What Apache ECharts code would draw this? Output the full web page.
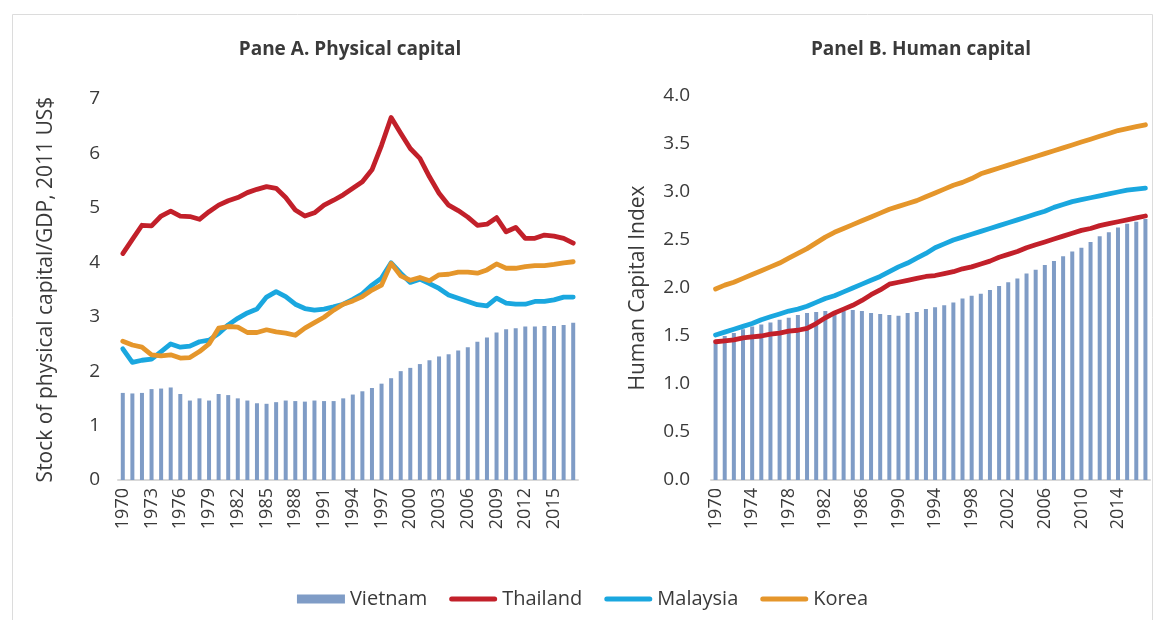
<!DOCTYPE html>
<html>
<head>
<meta charset="utf-8">
<script src="https://cdn.jsdelivr.net/npm/echarts@6/dist/echarts.min.js"></script>
<style>
  html, body { margin: 0; padding: 0; background: #fff; }
  #chart { width: 1165px; height: 620px; }
</style>
</head>
<body>
<div id="chart"></div>
<script>
// years shared by both panes
const years = [];
for (let y = 1970; y <= 2017; y++) years.push(String(y));

// Pane A. stock of physical capital / GDP
const vietnamK = [1.60, 1.59, 1.60, 1.67, 1.68, 1.70, 1.58, 1.46, 1.50, 1.46, 1.58, 1.56, 1.50, 1.46, 1.41, 1.40, 1.43, 1.46, 1.45, 1.44,
  1.46, 1.45, 1.45, 1.50, 1.57, 1.63, 1.69, 1.77, 1.87, 2.00, 2.06, 2.13, 2.20, 2.27, 2.31, 2.38, 2.44, 2.54, 2.62, 2.71,
  2.77, 2.79, 2.82, 2.82, 2.83, 2.83, 2.85, 2.89];
const thailandK = [4.16, 4.42, 4.68, 4.67, 4.85, 4.94, 4.85, 4.84, 4.79, 4.93, 5.05, 5.13, 5.19, 5.28, 5.34, 5.39, 5.36, 5.19, 4.96, 4.85,
  4.91, 5.05, 5.14, 5.24, 5.36, 5.48, 5.70, 6.15, 6.66, 6.37, 6.09, 5.91, 5.57, 5.27, 5.05, 4.95, 4.83, 4.68, 4.70, 4.82,
  4.56, 4.64, 4.44, 4.44, 4.50, 4.48, 4.44, 4.35];
const malaysiaK = [2.41, 2.16, 2.20, 2.22, 2.36, 2.50, 2.44, 2.46, 2.54, 2.57, 2.69, 2.85, 2.97, 3.07, 3.14, 3.36, 3.46, 3.37, 3.23, 3.15,
  3.12, 3.14, 3.18, 3.23, 3.32, 3.42, 3.58, 3.71, 3.99, 3.80, 3.63, 3.69, 3.61, 3.52, 3.40, 3.34, 3.28, 3.22, 3.20, 3.34,
  3.25, 3.23, 3.23, 3.28, 3.28, 3.31, 3.36, 3.36];
const koreaK = [2.55, 2.48, 2.44, 2.30, 2.28, 2.30, 2.24, 2.25, 2.36, 2.50, 2.79, 2.82, 2.81, 2.71, 2.71, 2.76, 2.72, 2.70, 2.66, 2.79,
  2.89, 2.99, 3.12, 3.23, 3.29, 3.37, 3.49, 3.58, 3.98, 3.75, 3.67, 3.72, 3.66, 3.77, 3.78, 3.82, 3.82, 3.80, 3.86, 3.97,
  3.89, 3.89, 3.92, 3.94, 3.94, 3.96, 3.99, 4.01];

// Panel B. human capital index
const vietnamH = [1.45, 1.50, 1.53, 1.57, 1.60, 1.62, 1.64, 1.67, 1.69, 1.72, 1.74, 1.75, 1.76, 1.75, 1.76, 1.77, 1.76, 1.74, 1.73, 1.72,
  1.71, 1.74, 1.75, 1.78, 1.80, 1.82, 1.85, 1.89, 1.92, 1.94, 1.98, 2.02, 2.06, 2.10, 2.15, 2.19, 2.24, 2.28, 2.33, 2.38,
  2.42, 2.48, 2.54, 2.58, 2.63, 2.67, 2.69, 2.72];
const thailandH = [1.44, 1.45, 1.46, 1.48, 1.49, 1.50, 1.52, 1.53, 1.55, 1.56, 1.58, 1.63, 1.69, 1.74, 1.78, 1.82, 1.87, 1.93, 1.98, 2.04,
  2.06, 2.08, 2.10, 2.12, 2.13, 2.15, 2.17, 2.20, 2.22, 2.25, 2.28, 2.32, 2.35, 2.38, 2.42, 2.45, 2.48, 2.51, 2.54, 2.57,
  2.60, 2.62, 2.65, 2.67, 2.69, 2.71, 2.73, 2.75];
const malaysiaH = [1.51, 1.54, 1.57, 1.60, 1.63, 1.67, 1.70, 1.73, 1.76, 1.78, 1.81, 1.85, 1.89, 1.92, 1.96, 2.00, 2.04, 2.08, 2.12, 2.17,
  2.22, 2.26, 2.31, 2.36, 2.42, 2.46, 2.50, 2.53, 2.56, 2.59, 2.62, 2.65, 2.68, 2.71, 2.74, 2.77, 2.80, 2.84, 2.87, 2.90,
  2.92, 2.94, 2.96, 2.98, 3.00, 3.02, 3.03, 3.04];
const koreaH = [1.99, 2.03, 2.06, 2.10, 2.14, 2.18, 2.22, 2.26, 2.31, 2.36, 2.41, 2.47, 2.53, 2.58, 2.62, 2.66, 2.70, 2.74, 2.78, 2.82,
  2.85, 2.88, 2.91, 2.95, 2.99, 3.03, 3.07, 3.10, 3.14, 3.19, 3.22, 3.25, 3.28, 3.31, 3.34, 3.37, 3.40, 3.43, 3.46, 3.49,
  3.52, 3.55, 3.58, 3.61, 3.64, 3.66, 3.68, 3.70];

const FONT = 'Open Sans';
const TXT = '#3a3a3a';
const colors = { Vietnam: '#7f9cc6', Thailand: '#c2202a', Malaysia: '#1aa7df', Korea: '#e5962b' };
// thick rounded line for the legend keys of the line series
const LINE_ICON = 'path://M2.5,0 L45.5,0 A2.5,2.5 0 0 1 45.5,5 L2.5,5 A2.5,2.5 0 0 1 2.5,0 Z';

const xAxisBase = (gridIndex, interval) => ({
  gridIndex: gridIndex,
  type: 'category',
  data: years,
  boundaryGap: true,
  axisLine: { lineStyle: { color: '#d9d9d9', width: 2 } },
  axisTick: { show: false },
  axisLabel: { rotate: 90, interval: interval, fontFamily: FONT, fontSize: 18, color: TXT, margin: 8 },
});

const lineSeries = (name, data, idx) => ({
  name: name,
  type: 'line',
  xAxisIndex: idx,
  yAxisIndex: idx,
  data: data,
  showSymbol: false,
  symbol: 'none',
  lineStyle: { width: 4.8, color: colors[name], cap: 'round', join: 'round' },
  itemStyle: { color: colors[name] },
  emphasis: { disabled: true },
});

const barSeries = (data, idx) => ({
  name: 'Vietnam',
  type: 'bar',
  xAxisIndex: idx,
  yAxisIndex: idx,
  data: data,
  barWidth: 4,
  itemStyle: { color: colors.Vietnam },
  emphasis: { disabled: true },
});

const chart = echarts.init(document.getElementById('chart'));
chart.setOption({
  animation: false,
  backgroundColor: '#fff',
  graphic: [
    {
      type: 'rect',
      shape: { x: 12.5, y: 14.5, width: 1140, height: 700 },
      style: { fill: 'none', stroke: '#dcdcdc', lineWidth: 1 },
      silent: true,
    },
  ],
  title: [
    {
      text: 'Pane A. Physical capital',
      left: 345,
      top: 35,
      textAlign: 'center',
      textStyle: { fontFamily: FONT, fontSize: 19, fontWeight: 'bold', color: TXT },
    },
    {
      text: 'Panel B. Human capital',
      left: 916,
      top: 35,
      textAlign: 'center',
      textStyle: { fontFamily: FONT, fontSize: 19, fontWeight: 'bold', color: TXT },
    },
  ],
  legend: {
    top: 584,
    left: 'center',
    itemWidth: 48,
    itemHeight: 9,
    itemGap: 22,
    textStyle: { fontFamily: FONT, fontSize: 20, color: TXT },
    data: [
      { name: 'Vietnam', icon: 'rect' },
      { name: 'Thailand', icon: LINE_ICON },
      { name: 'Malaysia', icon: LINE_ICON },
      { name: 'Korea', icon: LINE_ICON },
    ],
  },
  grid: [
    { left: 118, width: 460, top: 99, bottom: 140 },
    { left: 711, width: 439, top: 96, bottom: 140 },
  ],
  xAxis: [xAxisBase(0, 2), xAxisBase(1, 3)],
  yAxis: [
    {
      gridIndex: 0,
      type: 'value',
      min: 0,
      max: 7,
      interval: 1,
      splitLine: { show: false },
      axisLine: { show: false },
      axisTick: { show: false },
      axisLabel: { fontFamily: FONT, fontSize: 19, color: TXT, margin: 18 },
      name: 'Stock of physical capital/GDP, 2011 US$',
      nameLocation: 'middle',
      nameGap: 61,
      nameTextStyle: { fontFamily: FONT, fontSize: 21, color: TXT },
    },
    {
      gridIndex: 1,
      type: 'value',
      min: 0,
      max: 4,
      interval: 0.5,
      splitLine: { show: false },
      axisLine: { show: false },
      axisTick: { show: false },
      axisLabel: {
        fontFamily: FONT,
        fontSize: 19,
        color: TXT,
        margin: 21,
        formatter: (v) => v.toFixed(1),
      },
      name: 'Human Capital Index',
      nameLocation: 'middle',
      nameGap: 62,
      nameTextStyle: { fontFamily: FONT, fontSize: 21, color: TXT },
    },
  ],
  series: [
    barSeries(vietnamK, 0),
    lineSeries('Thailand', thailandK, 0),
    lineSeries('Malaysia', malaysiaK, 0),
    lineSeries('Korea', koreaK, 0),
    barSeries(vietnamH, 1),
    lineSeries('Thailand', thailandH, 1),
    lineSeries('Malaysia', malaysiaH, 1),
    lineSeries('Korea', koreaH, 1),
  ],
});
</script>
</body>
</html>
